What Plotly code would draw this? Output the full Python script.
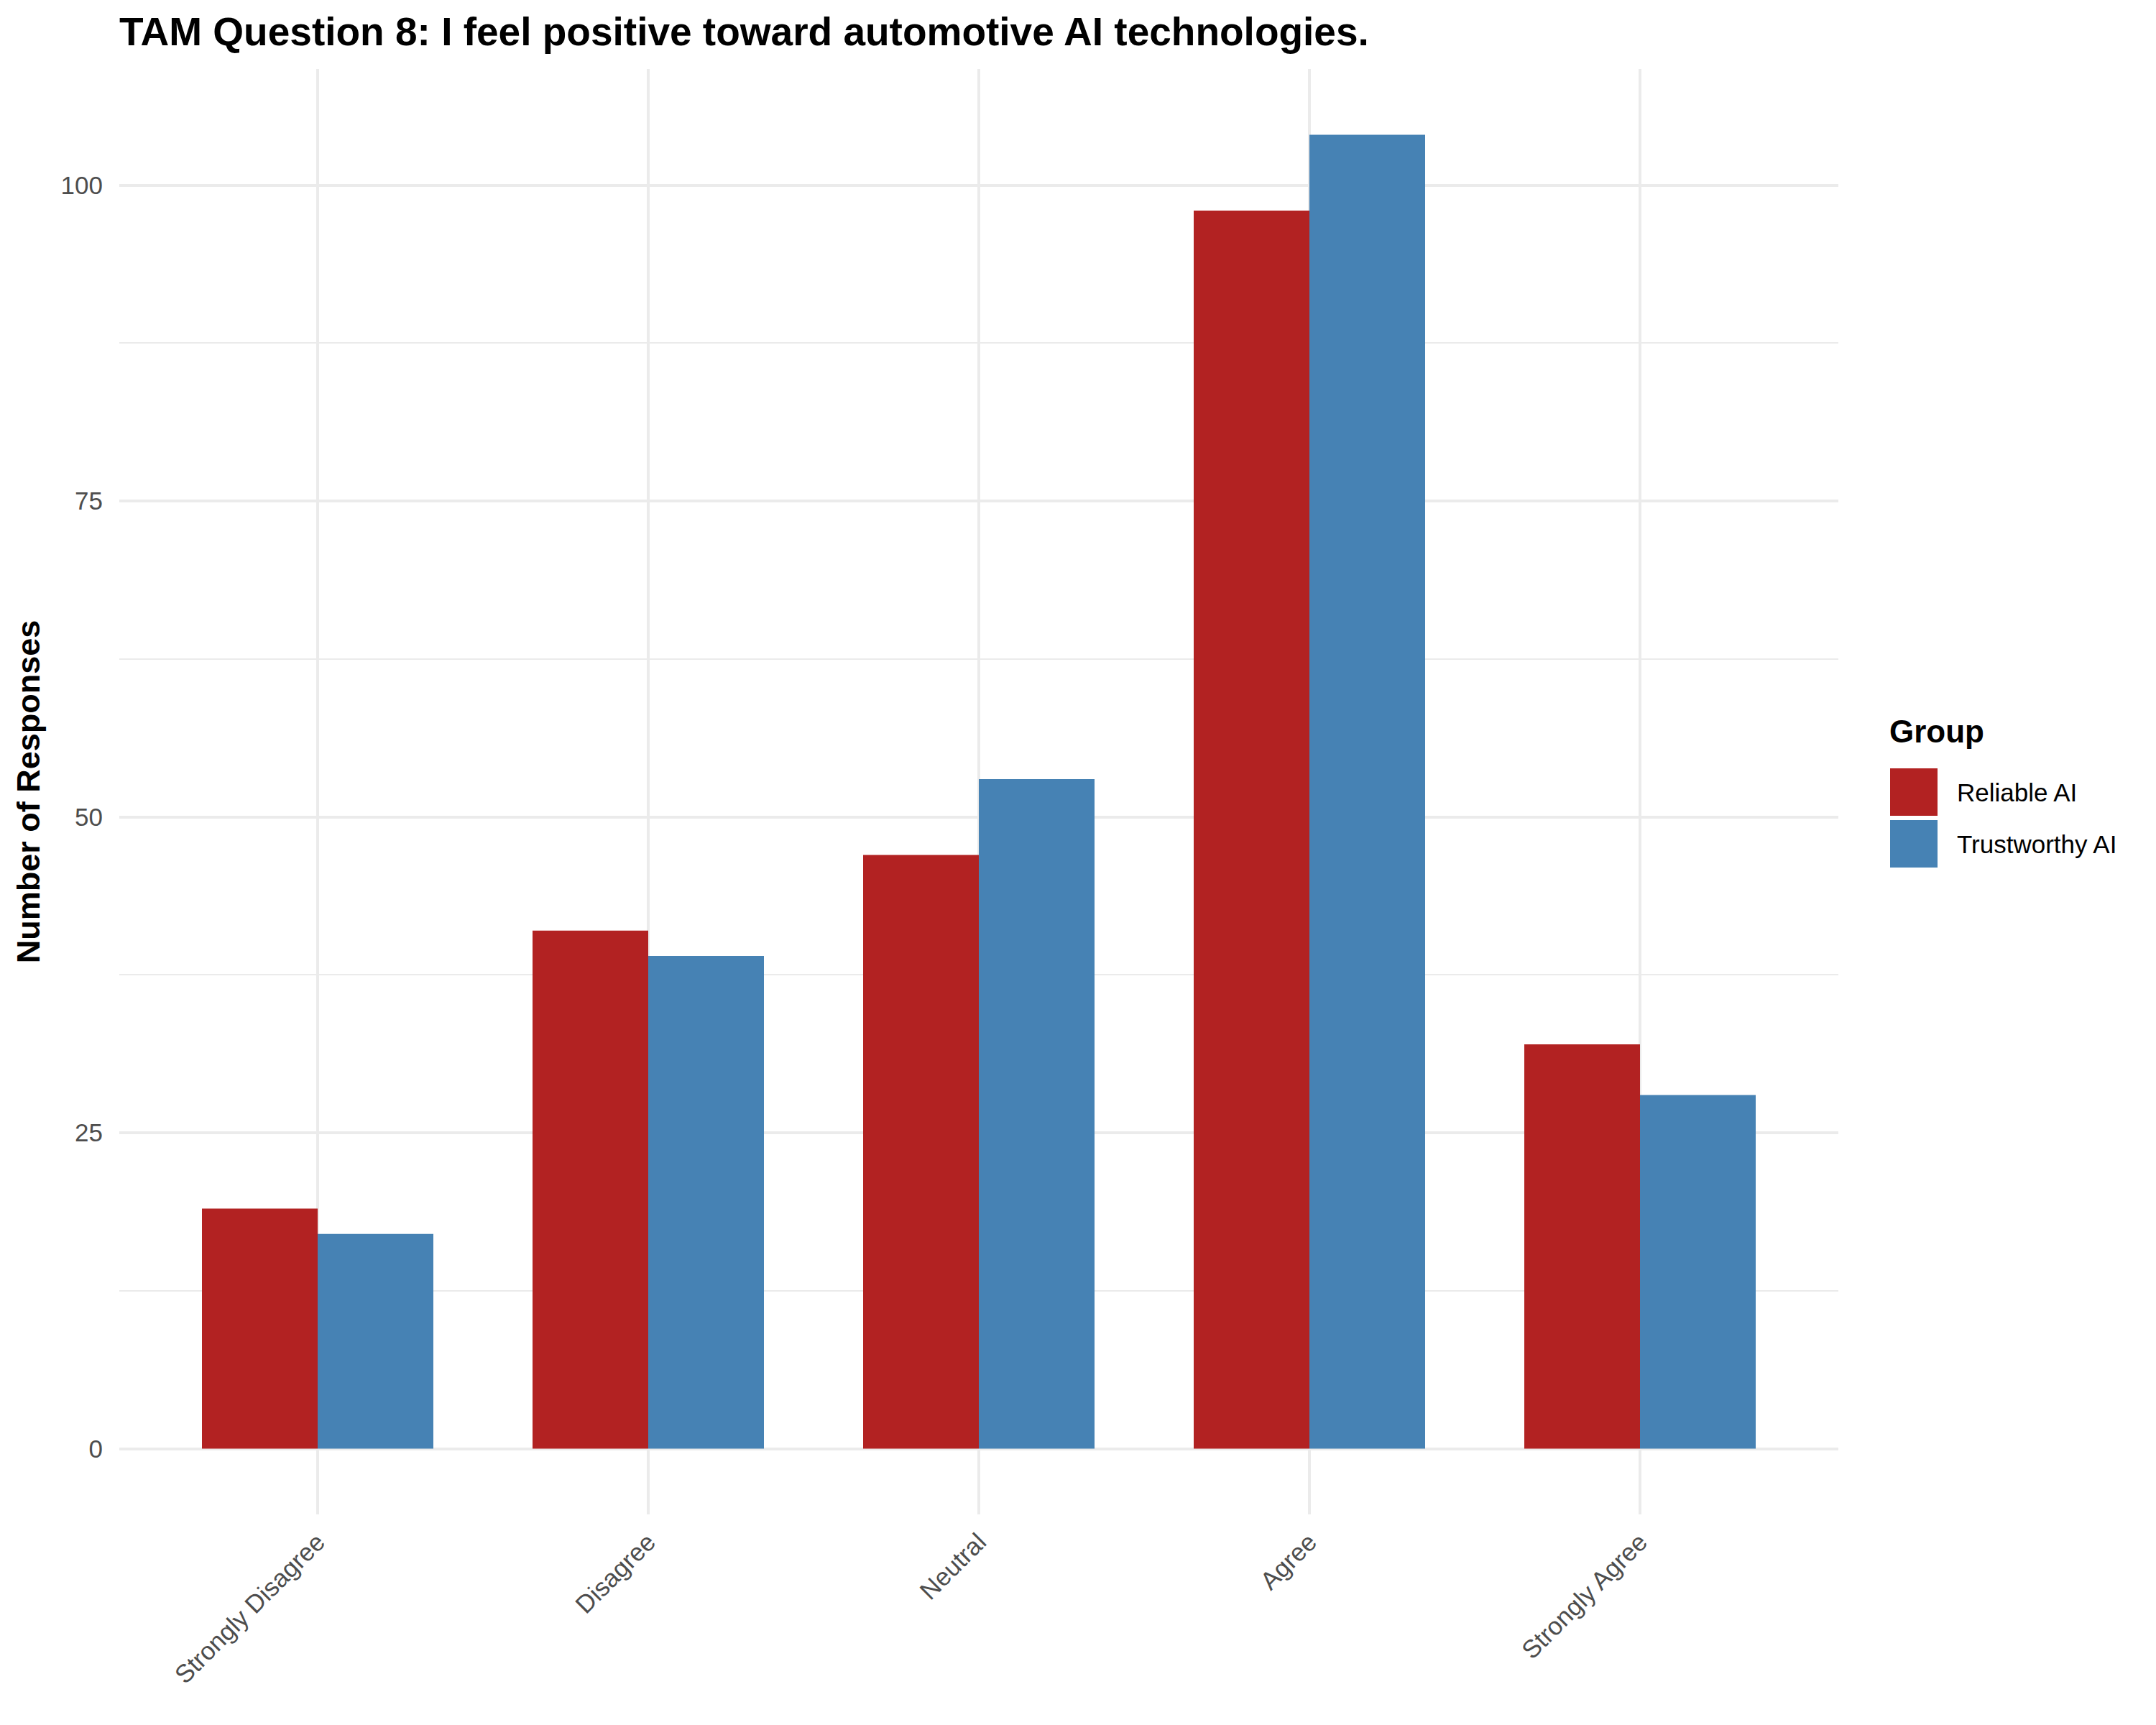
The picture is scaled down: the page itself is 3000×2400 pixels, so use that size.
import plotly.graph_objects as go

categories = ["Strongly Disagree", "Disagree", "Neutral", "Agree", "Strongly Agree"]
reliable_ai = [19, 41, 47, 98, 32]
trustworthy_ai = [17, 39, 53, 104, 28]
group_names = ["Reliable AI", "Trustworthy AI"]
y_tick_values = [0, 25, 50, 75, 100]
y_tick_labels = ["0", "25", "50", "75", "100"]
y_minor_values = [12.5, 37.5, 62.5, 87.5]
colors = ["#B22222", "#4682B4"]

W, H = 3000, 2400
OFF = 8  # default page body margin in the written html
# panel edges in screen pixels, converted to figure pixels
L, R, T, B = 166 - OFF, 2558 - OFF, 96 - OFF, 2107 - OFF
FONT = "Liberation Sans, Arial, sans-serif"
GRID = "#EBEBEB"


def px_x(p):
    return (p - OFF - L) / (R - L)


def px_y(p):
    return (B - (p - OFF)) / (B - T)


fig = go.Figure()
for name, vals, col in zip(group_names, [reliable_ai, trustworthy_ai], colors):
    fig.add_trace(go.Bar(x=categories, y=vals, name=name,
                         marker=dict(color=col, line=dict(width=0)),
                         showlegend=False))

fig.update_layout(
    width=W, height=H,
    barmode="group", bargap=0.3, bargroupgap=0,
    plot_bgcolor="white", paper_bgcolor="white",
    margin=dict(l=L, r=W - R, t=T, b=H - B, autoexpand=False),
    font=dict(family=FONT, color="#4D4D4D"),
    title=dict(text="<b>TAM Question 8: I feel positive toward automotive AI technologies.</b>",
               font=dict(family=FONT, size=55, color="black"),
               xref="paper", x=0, xanchor="left",
               yref="container", y=1 - 36 / H, yanchor="middle"),
    xaxis=dict(range=[-0.6, 4.6], showgrid=True, gridcolor=GRID, gridwidth=4,
               zeroline=False, showline=False, ticks="", tickangle=-45,
               tickfont=dict(family=FONT, size=35, color="#4D4D4D"),
               ticklabelstandoff=10),
    yaxis=dict(range=[-5.2, 109.2], tickvals=y_tick_values, ticktext=y_tick_labels,
               showgrid=True, gridcolor=GRID, gridwidth=4,
               minor=dict(tickvals=y_minor_values, showgrid=True, gridcolor=GRID, gridwidth=2),
               zeroline=False, showline=False, ticks="",
               tickfont=dict(family=FONT, size=35, color="#4D4D4D"),
               ticklabelstandoff=22,
               title=dict(text="<b>Number of Responses</b>",
                          font=dict(family=FONT, size=45, color="black"),
                          standoff=14)),
)

# legend drawn manually (ggplot-style large keys), positions in screen pixels
key_left, key_size = 2630, 66
key_tops = [1069, 1141]
fig.add_annotation(text="<b>Group</b>", xref="paper", yref="paper",
                   x=px_x(2627), y=px_y(1017), xanchor="left", yanchor="middle",
                   showarrow=False, font=dict(family=FONT, size=44, color="black"))
for name, col, top in zip(group_names, colors, key_tops):
    fig.add_shape(type="rect", xref="paper", yref="paper",
                  x0=px_x(key_left), x1=px_x(key_left + key_size),
                  y0=px_y(top + key_size), y1=px_y(top),
                  fillcolor=col, line=dict(width=0), layer="above")
    fig.add_annotation(text=name, xref="paper", yref="paper",
                       x=px_x(2721), y=px_y(top + key_size / 2),
                       xanchor="left", yanchor="middle", showarrow=False,
                       font=dict(family=FONT, size=35, color="black"))

fig.write_html("out.html")
